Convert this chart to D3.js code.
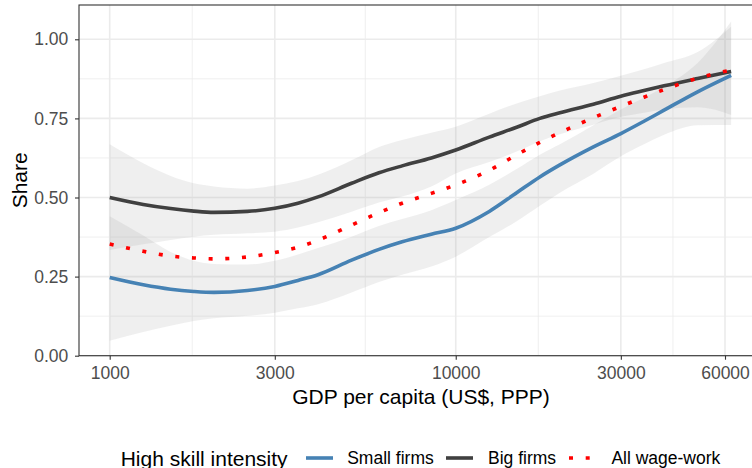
<!DOCTYPE html>
<html>
<head>
<meta charset="utf-8">
<script src="https://cdn.jsdelivr.net/npm/d3@7"></script>
<style>
  body { margin: 0; background: #fff; }
  text { font-family: "Liberation Sans", Arial, Helvetica, sans-serif; }
</style>
</head>
<body>
<script>
var gdp        = [1000, 1250, 1500, 1750, 2000, 2500, 3000, 3500, 4000, 5000, 6000, 7000, 8500, 10000, 12500, 15000, 17500, 20000, 25000, 30000, 35000, 40000, 50000, 62500]
var bigFirms   = [0.500, 0.478, 0.465, 0.457, 0.453, 0.456, 0.466, 0.482, 0.502, 0.545, 0.578, 0.600, 0.625, 0.650, 0.691, 0.722, 0.750, 0.768, 0.795, 0.820, 0.838, 0.853, 0.876, 0.898]
var allWage    = [0.353, 0.330, 0.315, 0.309, 0.306, 0.312, 0.326, 0.343, 0.365, 0.413, 0.452, 0.482, 0.513, 0.540, 0.586, 0.635, 0.674, 0.705, 0.752, 0.788, 0.817, 0.841, 0.877, 0.903]
var smallFirms = [0.247, 0.224, 0.210, 0.203, 0.200, 0.206, 0.219, 0.238, 0.256, 0.302, 0.336, 0.360, 0.384, 0.403, 0.456, 0.515, 0.565, 0.603, 0.660, 0.702, 0.741, 0.776, 0.834, 0.886]
// confidence bands
var smallLo = [0.047, 0.075, 0.095, 0.110, 0.118, 0.126, 0.136, 0.150, 0.163, 0.200, 0.233, 0.256, 0.282, 0.313, 0.375, 0.425, 0.474, 0.515, 0.575, 0.630, 0.668, 0.698, 0.728, 0.729]
var smallHi = [0.441, 0.380, 0.328, 0.300, 0.290, 0.288, 0.300, 0.320, 0.340, 0.376, 0.410, 0.432, 0.460, 0.492, 0.540, 0.590, 0.635, 0.668, 0.728, 0.778, 0.815, 0.850, 0.925, 1.056]
var bigLo   = [0.334, 0.352, 0.366, 0.376, 0.382, 0.387, 0.392, 0.405, 0.422, 0.455, 0.484, 0.503, 0.535, 0.576, 0.612, 0.645, 0.678, 0.700, 0.730, 0.755, 0.768, 0.778, 0.785, 0.761]
var bigHi   = [0.668, 0.608, 0.568, 0.545, 0.535, 0.528, 0.538, 0.552, 0.572, 0.618, 0.660, 0.682, 0.705, 0.724, 0.765, 0.797, 0.820, 0.838, 0.862, 0.885, 0.905, 0.925, 0.960, 1.040]

var xTicks = [1000, 3000, 10000, 30000, 60000]
var yTicks = [0, 0.25, 0.5, 0.75, 1]
var yMinor = [0.125, 0.375, 0.625, 0.875]

var series = [
  {name: 'Small firms', values: smallFirms, color: 'steelblue', dash: null},
  {name: 'Big firms', values: bigFirms, color: '#404040', dash: null},
  {name: 'All wage-work', values: allWage, color: '#ff0000', dash: '4 12.7'}
]
var bands = [
  {lo: smallLo, hi: smallHi},
  {lo: bigLo, hi: bigHi}
]

var W = 752, H = 468
var pLeft = 79, pTop = 5, pRight = 763, pBottom = 355.7

var x = d3.scaleLog().domain([1000, 60000]).range([109.7, 725])
var y = d3.scaleLinear().domain([0, 1]).range([pBottom, 39.3])

var xMinor = d3.pairs(xTicks).map(function(p) { return Math.sqrt(p[0] * p[1]) })

var svg = d3.select('body')
  .append('svg')
  .attr('width', W)
  .attr('height', H)

svg.append('defs').append('clipPath')
  .attr('id', 'panel')
  .append('rect')
  .attr('x', pLeft).attr('y', pTop)
  .attr('width', pRight - pLeft).attr('height', pBottom - pTop)

var grid = svg.append('g')

grid.selectAll('.ymin').data(yMinor).enter().append('line')
  .attr('x1', pLeft).attr('x2', pRight)
  .attr('y1', y).attr('y2', y)
  .style('stroke', '#ebebeb').style('stroke-width', 0.8)
grid.selectAll('.xmin').data(xMinor).enter().append('line')
  .attr('y1', pTop).attr('y2', pBottom)
  .attr('x1', x).attr('x2', x)
  .style('stroke', '#ebebeb').style('stroke-width', 0.8)
grid.selectAll('.ymaj').data(yTicks).enter().append('line')
  .attr('x1', pLeft).attr('x2', pRight)
  .attr('y1', y).attr('y2', y)
  .style('stroke', '#ebebeb').style('stroke-width', 1.6)
grid.selectAll('.xmaj').data(xTicks).enter().append('line')
  .attr('y1', pTop).attr('y2', pBottom)
  .attr('x1', x).attr('x2', x)
  .style('stroke', '#ebebeb').style('stroke-width', 1.6)

var plot = svg.append('g').attr('clip-path', 'url(#panel)')

var area = d3.area()
  .x(function(d) { return x(d.g) })
  .y0(function(d) { return y(d.lo) })
  .y1(function(d) { return y(d.hi) })
  .curve(d3.curveMonotoneX)

plot.selectAll('.band')
  .data(bands)
  .enter()
  .append('path')
  .attr('d', function(b) {
    return area(gdp.map(function(g, i) { return {g: g, lo: b.lo[i], hi: b.hi[i]} }))
  })
  .style('fill', '#999')
  .style('fill-opacity', 0.16)

var line = d3.line()
  .x(function(d) { return x(d.g) })
  .y(function(d) { return y(d.v) })
  .curve(d3.curveMonotoneX)

plot.selectAll('.series')
  .data(series)
  .enter()
  .append('path')
  .attr('d', function(s) {
    return line(gdp.map(function(g, i) { return {g: g, v: s.values[i]} }))
  })
  .style('fill', 'none')
  .style('stroke', function(s) { return s.color })
  .style('stroke-width', 3.6)
  .style('stroke-dasharray', function(s) { return s.dash })

// panel border
svg.append('rect')
  .attr('x', pLeft).attr('y', pTop)
  .attr('width', pRight - pLeft).attr('height', pBottom - pTop)
  .style('fill', 'none')
  .style('stroke', '#333')
  .style('stroke-width', 1.1)

var xAxis = svg.append('g')
  .attr('transform', 'translate(0,' + pBottom + ')')
  .call(d3.axisBottom(x).tickValues(xTicks).tickFormat(d3.format('d')).tickSize(4).tickPadding(7.2))

var yAxis = svg.append('g')
  .attr('transform', 'translate(' + pLeft + ',0)')
  .call(d3.axisLeft(y).tickValues(yTicks).tickFormat(d3.format('.2f')).tickSize(4).tickPadding(6.7))

;[xAxis, yAxis].forEach(function(a) {
  a.select('.domain').remove()
  a.selectAll('.tick line').style('stroke', '#333').style('stroke-width', 1.1)
  a.selectAll('.tick text')
    .style('fill', '#4d4d4d')
    .style('font-size', '17.5px')
    .style('font-family', '"Liberation Sans", Arial, sans-serif')
})

svg.append('text')
  .attr('x', (pLeft + pRight) / 2)
  .attr('y', 404)
  .attr('text-anchor', 'middle')
  .style('font-size', '21px')
  .text('GDP per capita (US$, PPP)')

svg.append('text')
  .attr('transform', 'translate(27,' + ((pTop + pBottom) / 2) + ') rotate(-90)')
  .attr('text-anchor', 'middle')
  .style('font-size', '21px')
  .text('Share')

// legend
var legend = svg.append('g').attr('transform', 'translate(0,458)')

legend.append('text')
  .attr('x', 120.7)
  .attr('y', 7.5)
  .style('font-size', '21px')
  .text('High skill intensity')

var keyX = [306, 446, 569]
var labelX = [347.2, 488, 611.4]

var items = legend.selectAll('.item')
  .data(series)
  .enter()
  .append('g')

items.append('line')
  .attr('x1', function(s, i) { return keyX[i] })
  .attr('x2', function(s, i) { return keyX[i] + 27 })
  .attr('y1', 0).attr('y2', 0)
  .style('stroke', function(s) { return s.color })
  .style('stroke-width', 3.6)
  .style('stroke-dasharray', function(s) { return s.dash })

items.append('text')
  .attr('x', function(s, i) { return labelX[i] })
  .attr('y', 5.6)
  .style('font-size', '17.5px')
  .text(function(s) { return s.name })
</script>
</body>
</html>
